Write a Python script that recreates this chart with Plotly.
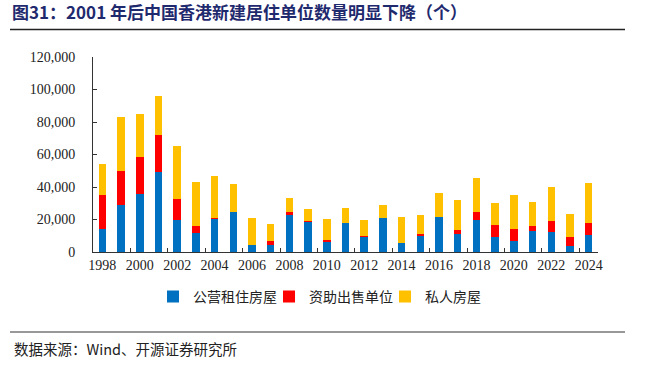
import plotly.graph_objects as go

years = [str(y) for y in range(1998, 2025)]
# stacked top readings -> component values (units)
public_rental = [13900, 29200, 35800, 49500, 20000, 11400, 20600, 24500, 4100, 4500,
                 22500, 19000, 6300, 17600, 9400, 20800, 5300, 10200, 21700, 11200,
                 20000, 9400, 6500, 13100, 12100, 3700, 10200]
subsidized_sale = [21000, 20900, 22900, 22200, 12500, 4500, 300, 0, 0, 2200,
                   2200, 300, 1200, 0, 300, 0, 0, 1000, 0, 2500,
                   4700, 7200, 7600, 3000, 7100, 5700, 7800]
private = [19500, 33100, 26500, 24400, 32900, 27200, 25900, 17200, 16700, 10300,
           8800, 7100, 13100, 9400, 10100, 8000, 16000, 11500, 14900, 18000,
           21100, 13600, 20800, 14600, 21100, 13900, 24300]

names = ["公营租住房屋", "资助出售单位", "私人房屋"]
colors = ["#0070C0", "#FF0000", "#FFC000"]
series = [public_rental, subsidized_sale, private]

fig = go.Figure()
for n, c, s in zip(names, colors, series):
    fig.add_trace(go.Bar(x=years, y=s, name=n, showlegend=False,
                         marker=dict(color=c, line=dict(width=0))))
# legend entries with small square symbols
for n, c in zip(names, colors):
    fig.add_trace(go.Scatter(x=[None], y=[None], mode="markers", name=n,
                             marker=dict(symbol="square", size=8, color=c)))

cjk = "Noto Sans CJK SC"
serif = "Liberation Serif, Times New Roman, DejaVu Serif, serif"

fig.update_layout(
    barmode="stack",
    bargap=0.6,
    width=645, height=376,
    margin=dict(l=93, r=47, t=57, b=124, autoexpand=False),
    paper_bgcolor="white", plot_bgcolor="white",
    title=dict(text="<b>图31：2001 年后中国香港新建居住单位数量明显下降（个）</b>",
               x=12 / 645, xanchor="left", xref="container",
               y=1 - 13 / 376, yanchor="middle", yref="container",
               font=dict(family=cjk, size=17, color="#1F2A6E")),
    legend=dict(orientation="h", x=(153 - 93) / 505, xanchor="left", y=-0.23, yanchor="middle",
                font=dict(family=cjk, size=14, color="#222"),
                itemwidth=30, entrywidth=71, traceorder="normal", itemsizing="constant"),
    xaxis=dict(type="category", dtick=2, tickson="boundaries", ticks="inside", ticklen=4,
               tickangle=0, automargin=False,
               tickcolor="#333", showline=True, linecolor="#333", linewidth=1,
               tickfont=dict(family=serif, size=14, color="#222"), showgrid=False),
    yaxis=dict(range=[0, 120000], dtick=20000, tickformat=",d", ticks="inside", ticklen=4,
               automargin=False,
               tickcolor="#333", showline=True, linecolor="#333", linewidth=1,
               showgrid=False, zeroline=False, ticklabelstandoff=14,
               tickfont=dict(family=serif, size=14, color="#222")),
    shapes=[
        dict(type="line", xref="paper", yref="paper", x0=(10 - 93) / 505, x1=(625 - 93) / 505,
             y0=(252 - 29.5) / 195, y1=(252 - 29.5) / 195, line=dict(color="#222", width=1.5)),
        dict(type="line", xref="paper", yref="paper", x0=(10 - 93) / 505, x1=(625 - 93) / 505,
             y0=(252 - 332) / 195, y1=(252 - 332) / 195, line=dict(color="#333", width=1.2)),
    ],
    annotations=[
        dict(text="数据来源：Wind、开源证券研究所", xref="paper", yref="paper",
             x=(12 - 93) / 505, y=(252 - 348) / 195, xanchor="left", yanchor="middle",
             showarrow=False, font=dict(family=cjk, size=14.5, color="#222")),
    ],
)

fig.write_html("out.html", config={"displayModeBar": False},
               post_script="document.body.style.margin='0';document.body.style.overflow='hidden';")
